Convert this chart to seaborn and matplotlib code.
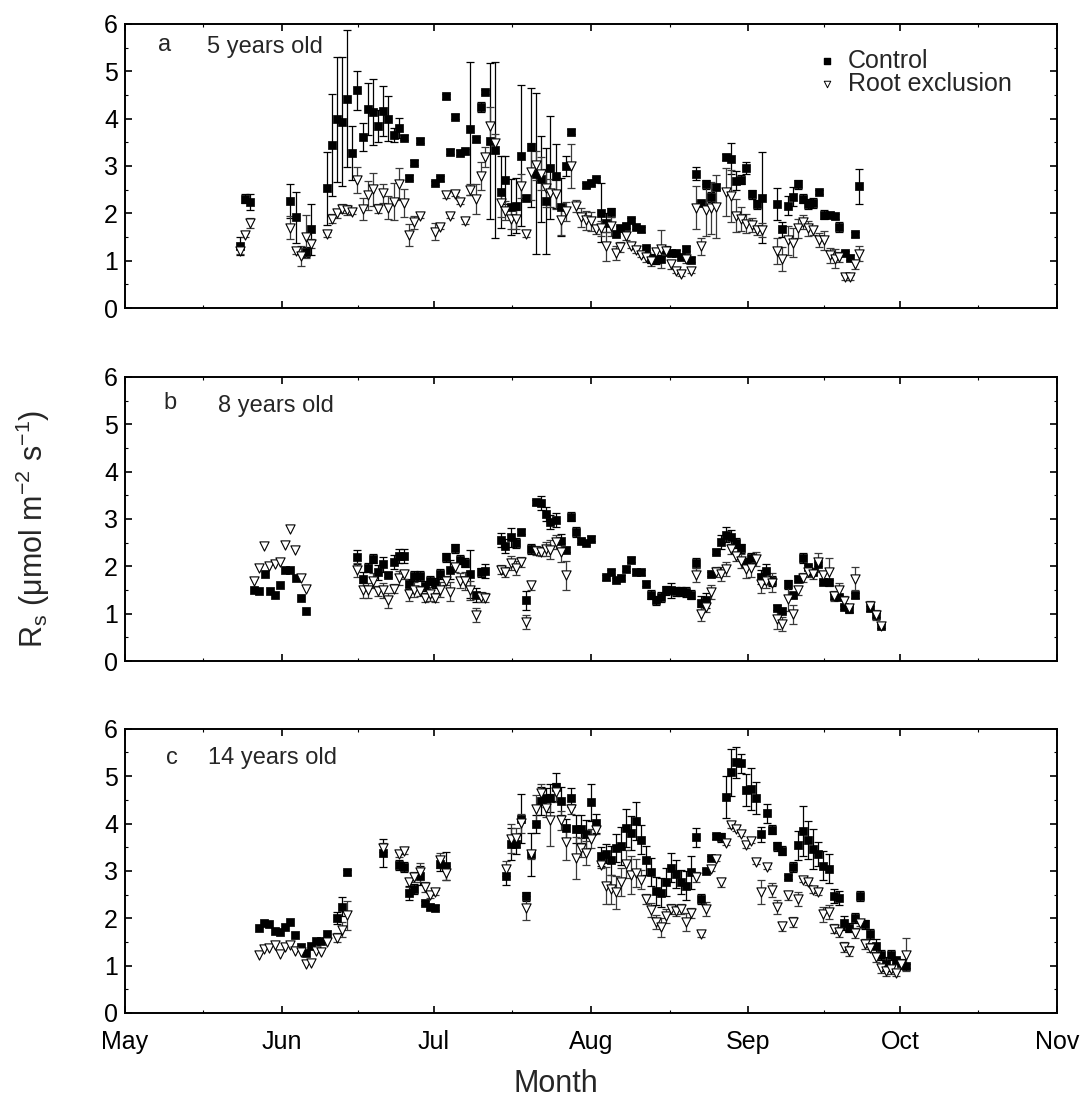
import numpy as np
import matplotlib
matplotlib.use("Agg")
import matplotlib.pyplot as plt
from matplotlib.ticker import FixedLocator, MultipleLocator
import seaborn as sns

# x values are days after 1 May
month_starts = [0, 31, 61, 92, 123, 153, 184]
month_labels = ["May", "Jun", "Jul", "Aug", "Sep", "Oct", "Nov"]

# ---------------- panel a: 5 years old ----------------
a_ctrl_day = [22.7, 23.7, 24.7, 32.6, 33.7, 35.7, 36.7, 39.8, 40.8, 41.8, 42.8, 43.8, 44.9, 45.9, 46.9,
              47.9, 48.9, 50.0, 50.9, 52.0, 53.1, 54.1, 55.1, 56.1, 57.1, 58.2, 61.3, 62.2, 63.3, 64.2,
              65.2, 66.2, 67.2, 68.2, 69.2, 70.2, 71.1, 72.1, 73.1, 74.2, 75.1, 76.2, 77.2, 78.1, 79.1,
              80.1, 81.1, 82.1, 83.1, 84.0, 85.0, 86.0, 87.0, 88.0, 91.0, 92.0, 92.9, 93.9, 94.9, 95.9,
              96.9, 97.8, 98.9, 99.9, 100.8, 101.8, 102.9, 103.8, 104.8, 105.8, 106.8, 107.8, 108.8,
              109.8, 110.8, 111.7, 112.7, 113.7, 114.7, 115.7, 116.7, 118.7, 119.7, 120.7, 121.6, 122.6,
              123.7, 124.7, 125.7, 128.7, 129.7, 130.8, 131.8, 132.9, 133.8, 134.8, 135.9, 137.0, 138.0,
              139.1, 140.1, 141.0, 142.1, 143.1, 144.2, 145.0]
a_ctrl_val = [1.30, 2.31, 2.24, 2.26, 1.92, 1.18, 1.66, 2.53, 3.44, 3.99, 3.93, 4.42, 3.27, 4.60, 3.61,
              4.21, 4.14, 3.85, 4.16, 4.00, 3.65, 3.80, 3.60, 2.75, 3.07, 3.53, 2.64, 2.74, 4.47, 3.30,
              4.04, 3.28, 3.31, 3.79, 3.56, 4.24, 4.56, 3.52, 3.34, 2.45, 2.70, 2.13, 2.16, 3.22, 2.33,
              3.39, 2.84, 2.73, 2.26, 2.96, 2.79, 2.14, 3.00, 3.72, 2.59, 2.65, 2.72, 2.01, 1.80, 2.02,
              1.57, 1.68, 1.74, 1.85, 1.71, 1.66, 1.27, 1.04, 1.03, 1.03, 1.22, 1.17, 1.17,
              1.08, 1.25, 1.02, 2.84, 2.22, 2.61, 2.34, 2.56, 3.19, 3.15, 2.69, 2.71, 2.96,
              2.40, 2.19, 2.33, 2.19, 1.66, 2.16, 2.35, 2.61, 2.31, 2.20, 2.22, 2.45, 1.97,
              1.97, 1.94, 1.71, 1.16, 1.06, 1.56, 2.57]
a_ctrl_err = [0.19, 0.10, 0.17, 0.35, 0.54, 0.10, 0.53, 0.77, 1.07, 1.32, 1.36, 1.45, 0.57, 0.41, 0.29,
              0.55, 0.69, 0.34, 0.53, 0.48, 0.15, 0.21, 0.05, 0.05, 0.05, 0.05, 0.05, 0.05, 0.05, 0.05,
              0.05, 0.05, 0.05, 1.40, 0.05, 0.10, 0.05, 1.65, 1.86, 0.75, 0.50, 0.59, 0.58, 1.48, 0.05,
              1.26, 1.69, 0.91, 1.12, 1.09, 0.67, 0.61, 0.21, 0.05, 0.05, 0.05, 0.05, 0.62, 0.20, 0.10,
              0.05, 0.05, 0.05, 0.05, 0.05, 0.05, 0.05, 0.10, 0.10, 0.05, 0.05, 0.05, 0.05,
              0.05, 0.05, 0.05, 0.14, 0.05, 0.10, 0.10, 0.05, 0.07, 0.33, 0.20, 0.10, 0.13,
              0.10, 0.10, 0.96, 0.34, 0.15, 0.20, 0.20, 0.10, 0.10, 0.10, 0.10, 0.05, 0.10,
              0.05, 0.05, 0.10, 0.05, 0.05, 0.05, 0.37]

a_root_day = [22.7, 23.7, 24.7, 32.6, 33.7, 34.7, 35.7, 36.7, 39.8, 40.8, 41.8, 42.8, 43.8, 44.9, 45.9,
              46.9, 47.9, 48.9, 50.0, 50.9, 52.0, 53.1, 54.1, 55.1, 56.1, 57.1, 58.2, 61.3, 62.2, 63.3,
              64.2, 65.2, 66.2, 67.2, 68.2, 69.2, 70.2, 71.1, 72.1, 73.1, 74.2, 75.1, 76.2, 77.2, 78.1,
              79.1, 80.1, 81.1, 82.1, 83.1, 84.0, 85.0, 86.0, 87.0, 88.0, 89.0, 90.0, 91.0, 92.0, 92.9,
              93.9, 94.9, 95.9, 96.9, 97.8, 98.9, 99.9, 100.8, 101.8, 102.9, 103.8, 104.8, 105.8, 106.8,
              107.8, 108.8, 109.8, 110.8, 111.7, 112.7, 113.7, 114.7, 115.7, 116.7, 118.7, 119.7, 120.7,
              121.6, 122.6, 123.7, 124.7, 125.7, 128.7, 129.7, 130.8, 131.8, 132.9, 133.8, 134.8, 135.9,
              137.0, 138.0, 139.1, 140.1, 141.0, 142.1, 143.1, 144.2, 145.0]
a_root_val = [1.20, 1.54, 1.80, 1.70, 1.20, 1.10, 1.51, 1.36, 1.56, 1.89, 2.00, 2.10, 2.07, 2.03, 2.70,
              2.09, 2.38, 2.51, 2.10, 2.42, 2.12, 2.24, 2.62, 2.22, 1.54, 1.81, 1.95, 1.61, 1.71, 2.38,
              1.95, 2.41, 2.24, 1.83, 2.50, 2.30, 2.79, 3.19, 3.85, 3.48, 2.22, 2.05, 1.87, 1.87, 2.57,
              1.57, 2.88, 3.01, 2.84, 2.53, 2.43, 2.40, 1.85, 2.04, 3.00, 2.16, 1.92, 1.85, 1.83, 1.66,
              1.68, 1.30, 1.73, 1.17, 1.29, 1.53, 1.32, 1.22, 1.13, 1.08, 0.99, 1.18, 1.24, 1.20,
              0.92, 0.78, 0.72, 1.04, 0.79, 2.12, 1.30, 2.07, 2.12, 2.14, 2.45, 2.37, 1.95,
              1.88, 1.78, 1.76, 1.64, 1.64, 1.20, 1.04, 1.43, 1.38, 1.68, 1.81, 1.68, 1.64,
              1.43, 1.43, 1.11, 1.04, 1.08, 0.65, 0.65, 0.92, 1.15]
a_root_err = [0.05, 0.05, 0.10, 0.24, 0.05, 0.21, 0.45, 0.10, 0.05, 0.10, 0.10, 0.10, 0.10, 0.05, 0.27,
              0.24, 0.30, 0.35, 0.10, 0.20, 0.25, 0.39, 0.34, 0.30, 0.24, 0.14, 0.05, 0.18, 0.05, 0.05,
              0.05, 0.05, 0.05, 0.05, 0.12, 0.32, 0.30, 0.21, 0.39, 0.20, 0.30, 0.20, 0.20, 0.20, 0.25,
              0.08, 0.60, 0.30, 0.35, 0.40, 0.30, 0.30, 0.30, 0.20, 0.47, 0.13, 0.20, 0.20, 0.20, 0.10,
              0.15, 0.30, 0.20, 0.15, 0.10, 0.10, 0.05, 0.05, 0.05, 0.10, 0.10, 0.05, 0.40, 0.10,
              0.10, 0.05, 0.05, 0.10, 0.05, 0.45, 0.18, 0.55, 0.55, 0.67, 0.50, 0.55, 0.35,
              0.25, 0.20, 0.15, 0.10, 0.15, 0.28, 0.25, 0.30, 0.30, 0.20, 0.15, 0.15, 0.10,
              0.15, 0.20, 0.15, 0.20, 0.10, 0.05, 0.05, 0.10, 0.15]

# ---------------- panel b: 8 years old ----------------
b_ctrl_day = [25.5, 26.5, 27.6, 28.6, 29.6, 30.6, 31.6, 32.6, 33.7, 34.7, 35.7, 45.9, 46.9, 47.9, 49.0,
              50.0, 51.0, 52.0, 53.1, 54.1, 55.1, 56.1, 57.1, 58.2, 59.2, 60.2, 61.3, 62.2, 63.3, 64.2,
              65.2, 66.2, 67.2, 68.2, 69.2, 70.2, 71.1, 74.2, 75.1, 76.2, 77.2, 78.1, 79.1, 80.1, 81.1,
              82.1, 83.1, 84.0, 85.0, 86.0, 87.0, 88.0, 89.0, 90.0, 91.0, 92.0, 94.9, 95.9, 96.9, 97.9,
              98.9, 99.9, 100.8, 101.8, 102.8, 103.8, 104.8, 105.8, 106.8, 107.8, 108.7, 109.7, 110.7,
              111.7, 112.8, 113.7, 114.7, 115.7, 116.7, 117.6, 118.7, 119.7, 120.7, 121.6, 122.6, 123.6,
              125.6, 126.6, 127.7, 128.7, 129.7, 130.8, 131.8, 132.8, 133.8, 134.8, 135.8, 136.9, 137.9,
              138.9, 140.0, 141.0, 141.9, 143.0, 144.2, 147.1, 148.2, 149.2]
b_ctrl_val = [1.49, 1.48, 1.84, 1.48, 1.39, 1.60, 1.93, 1.93, 1.76, 1.34, 1.06, 2.20, 1.74, 1.97, 2.16,
              1.87, 2.04, 1.82, 2.09, 2.21, 2.21, 1.63, 1.80, 1.80, 1.58, 1.70, 1.65, 1.84, 2.19, 1.93,
              2.38, 2.14, 2.08, 1.84, 1.39, 1.87, 1.90, 2.56, 2.43, 2.61, 2.49, 2.73, 1.28, 2.37, 3.35,
              3.33, 3.10, 2.94, 2.97, 2.54, 2.35, 3.05, 2.72, 2.54, 2.49, 2.58, 1.77, 1.87, 1.71, 1.76,
              1.95, 2.14, 1.89, 1.87, 1.63, 1.40, 1.28, 1.35, 1.49, 1.49, 1.47, 1.47, 1.46,
              1.40, 2.07, 1.23, 1.28, 1.84, 2.31, 2.51, 2.67, 2.61, 2.49, 2.38, 2.08, 2.18,
              1.77, 1.90, 1.69, 1.13, 1.06, 1.62, 1.39, 1.74, 2.18, 1.98, 1.87, 2.05, 1.67,
              1.66, 1.37, 1.35, 1.14, 1.09, 1.39, 1.11, 0.97, 0.74]
b_ctrl_err = [0, 0, 0, 0, 0, 0, 0, 0, 0, 0, 0, 0.15, 0.15, 0.10, 0.10,
              0.15, 0.15, 0.05, 0.15, 0.15, 0.15, 0.10, 0.10, 0.10, 0.10, 0.10, 0.10, 0.10, 0.10, 0.20,
              0.10, 0.10, 0.10, 0.50, 0.15, 0.10, 0.15, 0.15, 0.15, 0.20, 0.10, 0.05, 0.20, 0.10, 0.05,
              0.15, 0.15, 0.15, 0.15, 0.15, 0.05, 0.10, 0.10, 0.05, 0.05, 0.05, 0.05, 0.05, 0.05, 0.05,
              0.05, 0.05, 0.05, 0.05, 0.05, 0.10, 0.10, 0.10, 0.10, 0.15, 0.10, 0.10, 0.10,
              0.10, 0.10, 0.15, 0.15, 0.05, 0.05, 0.15, 0.15, 0.15, 0.10, 0.10, 0.10, 0.10,
              0.15, 0.15, 0.10, 0.05, 0.05, 0.10, 0.05, 0.05, 0.10, 0.05, 0.05, 0.05, 0.05,
              0.05, 0.05, 0.05, 0.05, 0.05, 0.05, 0.05, 0.05, 0.05]

b_root_day = [25.5, 26.5, 27.5, 28.5, 29.6, 30.6, 31.6, 32.6, 33.6, 34.7, 35.7, 45.9, 46.9, 47.9, 49.0,
              50.0, 51.0, 52.0, 53.1, 54.1, 55.1, 56.1, 57.1, 58.2, 59.2, 60.2, 61.3, 62.2, 63.3, 64.2,
              65.2, 66.2, 67.2, 68.2, 69.2, 70.2, 71.1, 74.2, 75.1, 76.2, 77.2, 78.1, 79.1, 80.1, 81.1,
              82.1, 83.1, 84.0, 85.0, 86.0, 87.0, 112.8, 113.7, 114.7, 115.7, 116.7, 117.6, 118.7, 119.7,
              120.7, 121.6, 122.6, 123.6, 124.6, 125.6, 126.6, 127.7, 128.7, 129.7, 130.8, 131.8, 132.8,
              133.8, 134.8, 135.8, 136.9, 137.9, 138.9, 140.0, 141.0, 141.9, 143.0, 144.2, 147.1, 148.2,
              149.2]
b_root_val = [1.69, 1.97, 2.43, 2.00, 2.05, 2.09, 2.46, 2.79, 2.35, 1.76, 1.53, 1.93, 1.49, 1.49, 1.70,
              1.48, 1.49, 1.28, 1.53, 1.76, 1.83, 1.42, 1.51, 1.48, 1.34, 1.42, 1.34, 1.51, 1.70, 1.46,
              1.98, 1.70, 1.69, 1.49, 0.97, 1.35, 1.34, 1.93, 1.88, 2.07, 1.97, 2.09, 0.83, 1.60, 2.33,
              2.31, 2.37, 2.35, 2.52, 2.30, 1.81, 1.81, 0.99, 1.14, 1.46, 1.88, 1.84, 1.95, 2.37,
              2.21, 2.12, 1.95, 1.97, 2.16, 1.63, 1.70, 1.65, 0.88, 0.78, 1.30, 0.99, 1.49,
              1.76, 1.88, 1.84, 2.09, 1.81, 1.88, 1.37, 1.49, 1.27, 1.11, 1.74, 1.16, 0.97,
              0.74]
b_root_err = [0, 0, 0, 0, 0, 0, 0, 0, 0, 0, 0, 0.15, 0.15, 0.15, 0.15,
              0.10, 0.15, 0.15, 0.10, 0.15, 0.10, 0.15, 0.15, 0.10, 0.10, 0.15, 0.10, 0.15, 0.10, 0.20,
              0.10, 0.15, 0.20, 0.20, 0.15, 0.10, 0.10, 0.10, 0.10, 0.15, 0.15, 0.10, 0.15, 0.10, 0.10,
              0.10, 0.15, 0.20, 0.15, 0.20, 0.30, 0.15, 0.15, 0.10, 0.15, 0.10, 0.15, 0.15, 0.10,
              0.10, 0.15, 0.20, 0.20, 0.15, 0.20, 0.15, 0.20, 0.20, 0.15, 0.25, 0.20, 0.10,
              0.10, 0.10, 0.10, 0.20, 0.10, 0.30, 0.10, 0.15, 0.10, 0.10, 0.25, 0.10, 0.10,
              0.05]

# ---------------- panel c: 14 years old ----------------
c_ctrl_day = [26.5, 27.5, 28.5, 29.6, 30.6, 31.6, 32.6, 33.6, 34.7, 35.7, 36.7, 37.7, 38.7, 39.8, 41.8,
              42.8, 43.8, 50.9, 54.1, 55.1, 56.1, 57.1, 58.2, 59.2, 60.2, 61.3, 62.2, 63.3, 75.2, 76.2,
              77.2, 78.1, 79.1, 80.1, 81.1, 82.1, 83.1, 84.0, 85.0, 86.0, 87.0, 88.0, 89.0, 90.0, 91.0,
              92.0, 92.9, 93.9, 94.9, 95.9, 96.9, 97.9, 98.9, 99.9, 100.8, 101.8, 102.8, 103.8, 104.8,
              105.8, 106.8, 107.8, 108.7, 109.7, 110.7, 111.7, 112.8, 113.7, 114.7, 115.7, 116.7, 117.6,
              118.7, 119.7, 120.7, 121.6, 122.6, 123.6, 124.6, 125.6, 126.7, 127.7, 128.7, 129.7, 130.8,
              131.8, 132.9, 133.9, 134.9, 135.9, 136.9, 137.9, 139.0, 140.0, 141.0, 141.9, 143.0, 144.1,
              145.1, 146.1, 147.1, 148.2, 149.2, 150.2, 151.3, 152.3, 153.2, 154.2]
c_ctrl_val = [1.80, 1.89, 1.87, 1.74, 1.71, 1.81, 1.91, 1.65, 1.39, 1.27, 1.41, 1.52, 1.52, 1.67, 2.01,
              2.24, 2.97, 3.38, 3.12, 3.08, 2.53, 2.62, 2.90, 2.32, 2.24, 2.22, 3.14, 3.10, 2.90, 3.56,
              3.56, 4.10, 2.46, 3.35, 3.99, 4.47, 4.54, 4.54, 4.77, 4.47, 3.90, 4.54, 3.89, 3.89, 3.77,
              4.45, 4.01, 3.31, 3.36, 3.22, 3.48, 3.52, 3.90, 3.80, 4.05, 3.66, 3.22, 2.97, 2.57,
              2.54, 2.76, 3.07, 2.94, 2.76, 2.69, 2.97, 3.71, 2.41, 3.00, 3.27, 3.73, 3.71,
              4.56, 5.08, 5.29, 5.27, 4.70, 4.73, 4.54, 3.77, 4.22, 3.87, 3.52, 3.43, 2.87,
              3.08, 3.54, 3.85, 3.66, 3.47, 3.35, 3.11, 3.05, 2.47, 2.43, 1.90, 1.80, 2.00,
              2.47, 1.87, 1.67, 1.41, 1.22, 1.04, 1.22, 1.11, 1.06, 0.99]
c_ctrl_err = [0, 0, 0, 0, 0, 0, 0, 0, 0, 0, 0, 0, 0, 0, 0.13,
              0.20, 0.05, 0.29, 0.10, 0.10, 0.15, 0.10, 0.20, 0.05, 0.05, 0.05, 0.15, 0.30, 0.20, 0.34,
              0.20, 0.52, 0.10, 0.46, 0.20, 0.30, 0.20, 0.30, 0.30, 0.30, 0.20, 0.20, 0.30, 0.30, 0.30,
              0.39, 0.20, 0.20, 0.20, 0.30, 0.30, 0.40, 0.40, 0.35, 0.40, 0.30, 0.30, 0.30, 0.30,
              0.30, 0.30, 0.30, 0.30, 0.25, 0.30, 0.35, 0.20, 0.10, 0.05, 0.05, 0.05, 0.10,
              0.44, 0.50, 0.33, 0.20, 0.34, 0.45, 0.33, 0.15, 0.20, 0.10, 0.10, 0.10, 0.05,
              0.10, 0.30, 0.53, 0.40, 0.42, 0.25, 0.30, 0.30, 0.15, 0.15, 0.15, 0.10, 0.10,
              0.10, 0.10, 0.10, 0.15, 0.10, 0.15, 0.10, 0.05, 0.05, 0.05]

c_root_day = c_ctrl_day
c_root_val = [1.22, 1.34, 1.38, 1.44, 1.25, 1.39, 1.44, 1.31, 1.29, 1.04, 1.06, 1.31, 1.29, 1.49, 1.59,
              1.76, 2.06, 3.49, 3.35, 3.41, 2.76, 2.87, 2.97, 2.66, 2.48, 2.55, 3.22, 2.96, 3.05, 3.68,
              3.70, 4.01, 2.22, 3.35, 4.31, 4.64, 4.33, 4.08, 4.66, 4.07, 3.60, 4.31, 3.27, 3.49, 3.38,
              3.68, 3.87, 3.12, 2.69, 2.61, 2.55, 2.76, 3.14, 2.92, 2.96, 2.81, 2.41, 2.17, 1.92,
              1.81, 2.04, 2.19, 2.15, 2.19, 1.92, 2.11, 2.87, 1.66, 2.20, 3.05, 3.26, 2.76,
              3.59, 3.96, 3.89, 3.78, 3.54, 3.64, 3.19, 2.55, 3.09, 2.59, 2.24, 1.83, 2.48,
              1.92, 2.41, 2.81, 2.76, 2.59, 2.55, 2.08, 2.13, 1.78, 1.71, 1.39, 1.31, 1.69,
              1.89, 1.46, 1.38, 1.18, 0.94, 0.89, 0.92, 0.84, 1.03, 1.23]
c_root_err = [0, 0, 0, 0, 0, 0, 0, 0, 0, 0, 0, 0, 0, 0, 0.10,
              0.15, 0.30, 0.10, 0.05, 0.05, 0.10, 0.10, 0.20, 0.10, 0.05, 0.05, 0.15, 0.15, 0.15, 0.30,
              0.20, 0.20, 0.25, 0.10, 0.30, 0.20, 0.20, 0.55, 0.20, 0.20, 0.37, 0.10, 0.44, 0.20, 0.25,
              0.20, 0.10, 0.05, 0.40, 0.30, 0.35, 0.30, 0.30, 0.40, 0.30, 0.20, 0.10, 0.15, 0.15,
              0.20, 0.15, 0.10, 0.10, 0.10, 0.20, 0.10, 0.10, 0.05, 0.15, 0.05, 0.05, 0.10,
              0.05, 0.05, 0.05, 0.05, 0.05, 0.05, 0.05, 0.25, 0.05, 0.15, 0.15, 0.10, 0.10,
              0.10, 0.15, 0.05, 0.05, 0.05, 0.05, 0.15, 0.15, 0.10, 0.10, 0.10, 0.10, 0.10,
              0.05, 0.10, 0.10, 0.10, 0.10, 0.10, 0.10, 0.05, 0.10, 0.35]

panels = [
    ("a", "5 years old", a_ctrl_day, a_ctrl_val, a_ctrl_err, a_root_day, a_root_val, a_root_err),
    ("b", "8 years old", b_ctrl_day, b_ctrl_val, b_ctrl_err, b_root_day, b_root_val, b_root_err),
    ("c", "14 years old", c_ctrl_day, c_ctrl_val, c_ctrl_err, c_root_day, c_root_val, c_root_err),
]

sns.set_style("ticks")
plt.rcParams["font.family"] = ["Liberation Sans", "DejaVu Sans"]
plt.rcParams["mathtext.fontset"] = "custom"
plt.rcParams["mathtext.rm"] = "Liberation Sans"
plt.rcParams["mathtext.it"] = "Liberation Sans:italic"

fig = plt.figure(figsize=(10.83, 11.14), dpi=100)
left, width = 0.1154, 0.8606
bottoms = [0.7235, 0.4066, 0.0907]
height = 0.2551

label_pos = [(0.043, 0.925, 0.088, 0.92), (0.048, 0.909, 0.100, 0.897), (0.050, 0.898, 0.089, 0.898)]


def errbars(ax, x, y, e, color):
    x = np.asarray(x); y = np.asarray(y); e = np.asarray(e)
    m = e > 0
    ax.errorbar(x[m], y[m], yerr=e[m], fmt="none", ecolor=color, elinewidth=0.9,
                capsize=2.6, capthick=0.9, zorder=2)


for i, (letter, title, cd, cv, ce, rd, rv, re) in enumerate(panels):
    ax = fig.add_axes([left, bottoms[i], width, height])
    errbars(ax, cd, cv, ce, "black")
    errbars(ax, rd, rv, re, "#3a3a3a")
    sns.scatterplot(x=cd, y=cv, marker="s", s=28, color="black", edgecolor="black",
                    linewidth=0.5, ax=ax, zorder=3, legend=False)
    sns.scatterplot(x=rd, y=rv, marker="v", s=44, color="white", edgecolor="black",
                    linewidth=0.8, ax=ax, zorder=4, legend=False)

    ax.set_xlim(0, 184)
    ax.set_ylim(0, 6)
    ax.xaxis.set_major_locator(FixedLocator(month_starts))
    mids = [(month_starts[k] + month_starts[k + 1]) / 2 for k in range(6)]
    ax.xaxis.set_minor_locator(FixedLocator(mids))
    ax.yaxis.set_major_locator(MultipleLocator(1))
    ax.yaxis.set_minor_locator(MultipleLocator(0.5))
    ax.tick_params(which="both", direction="in", top=True, right=True, colors="black")
    ax.tick_params(which="major", length=5, width=1.2, labelsize=18)
    ax.tick_params(which="minor", length=2.5, width=0.8)
    ax.tick_params(axis="y", pad=5)
    for sp in ax.spines.values():
        sp.set_visible(True)
        sp.set_linewidth(1.4)
        sp.set_color("black")
    ax.set_xlabel("")
    ax.set_ylabel("")
    if i < 2:
        ax.set_xticklabels([])
    else:
        ax.set_xticklabels(month_labels)
        ax.tick_params(axis="x", pad=12)

    lx, ly, tx, ty = label_pos[i]
    ax.text(lx, ly, letter, transform=ax.transAxes, fontsize=17, va="center", ha="center")
    ax.text(tx, ty, title, transform=ax.transAxes, fontsize=17, va="center", ha="left")

    if i == 0:
        ax.scatter([0.753], [0.869], marker="s", s=18, color="black", transform=ax.transAxes,
                   clip_on=False, zorder=5)
        ax.scatter([0.753], [0.788], marker="v", s=22, facecolor="white", edgecolor="black",
                   linewidth=0.7, transform=ax.transAxes, clip_on=False, zorder=5)
        ax.text(0.776, 0.869, "Control", transform=ax.transAxes, fontsize=18, va="center")
        ax.text(0.776, 0.788, "Root exclusion", transform=ax.transAxes, fontsize=18, va="center")

fig.text(0.030, 0.525, r"R$_\mathregular{s}$ ($\mathregular{\mu}$mol m$^\mathregular{-2}$ s$^\mathregular{-1}$)",
         rotation=90, fontsize=22, va="center", ha="center")
fig.text(0.513, 0.027, "Month", fontsize=22, va="center", ha="center")

fig.savefig("out.png", dpi=100)
